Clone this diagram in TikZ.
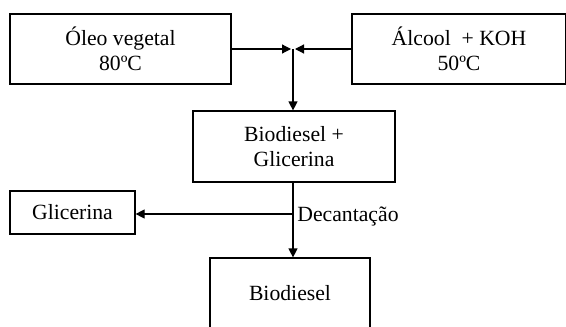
\documentclass[tikz,border=0pt]{standalone}
\usepackage{fontspec}
\setmainfont{Liberation Serif}
\usetikzlibrary{arrows.meta}
\begin{document}
\begin{tikzpicture}[x=0.5pt,y=-0.5pt,
  box/.style={draw, line width=0.6pt, align=center, inner sep=0pt,
    font=\fontsize{10.85pt}{12.5pt}\selectfont},
  conn/.style={line width=0.6pt, -{Triangle[length=4.5pt,width=4.5pt]}},
  lbl/.style={font=\fontsize{10.85pt}{12.5pt}\selectfont, inner sep=0pt}]
\useasboundingbox (0,0) rectangle (566,326);
\node[box, minimum width=110.5pt, minimum height=35pt] (oleo) at (120.5,49) {Óleo vegetal\\80ºC};
\node[box, minimum width=107pt, minimum height=35pt] (alc) at (459,49) {Álcool\ \ + KOH\\50ºC};
\node[box, minimum width=101pt, minimum height=35.5pt] (mix) at (294,146.5) {Biodiesel +\\Glicerina};
\node[box, minimum width=62.5pt, minimum height=21.5pt] (gli) at (72.5,212.5) {Glicerina};
\node[box, minimum width=80pt, minimum height=35pt] (bio) at (290,293) {Biodiesel};
\coordinate (j1) at (293,49);
\coordinate (j1l) at (291,49);
\coordinate (j1r) at (295,49);
\coordinate (j2) at (293,214);
\draw[conn] (oleo.east) -- (j1l);
\draw[conn] (alc.west) -- (j1r);
\draw[conn] (j1) -- (j1 |- mix.north);
\draw[line width=0.6pt] (j1 |- mix.south) -- (j2);
\draw[conn] (j2) -- (j2 |- bio.north);
\draw[conn] (j2) -- (gli.east |- j2);
\node[lbl, anchor=west] (dec) at (297,216) {Decantação};
\end{tikzpicture}
\end{document}
